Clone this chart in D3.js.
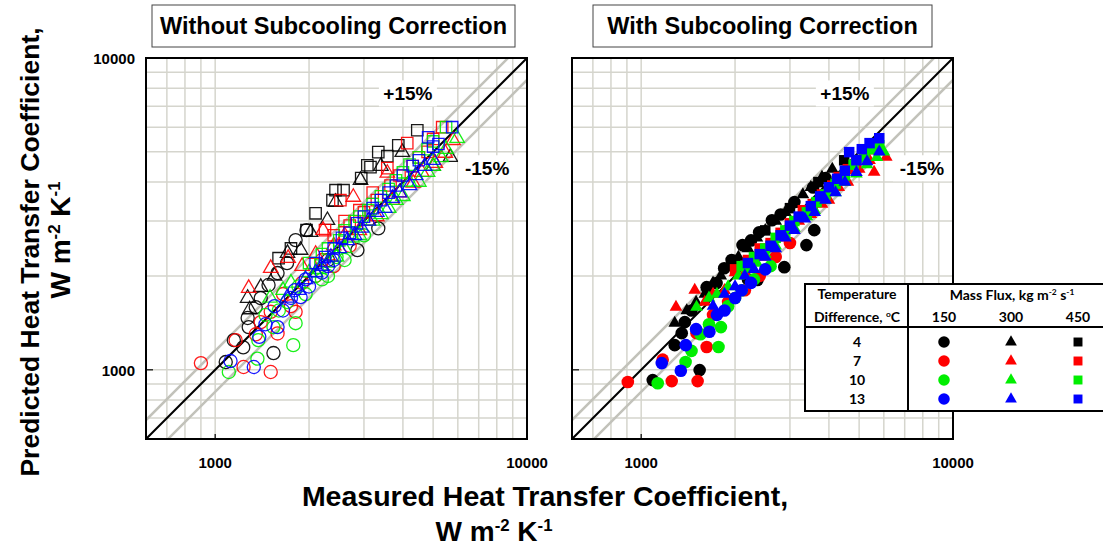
<!DOCTYPE html>
<html>
<head>
<meta charset="utf-8">
<script src="https://cdn.jsdelivr.net/npm/d3@7"></script>
<style>
  body { margin: 0; background: #fff; }
  text { font-family: "Liberation Sans", Arial, sans-serif; font-weight: bold; }
  .leg text { font-family: Lato, "Open Sans", sans-serif; }
</style>
</head>
<body>
<div id="chart"></div>
<script>
// Categories
const tempDiffs = [4, 7, 10, 13];          // degC
const massFluxes = [150, 300, 450];        // kg m-2 s-1
const tickVals = [1000, 10000];
const gridVals = [700, 800, 900, 1000, 2000, 3000, 4000, 5000, 6000, 7000, 8000, 9000];
const bandFactors = [1.15, 0.85];          // +15% / -15%

// Without subcooling correction: [measured, predicted]
const woC_4_150 = [[1081,1059],[1148,1245],[1230,1180],[1281,1371],[1271,1466],[1349,1589],[1400,1698],[1483,1871],[1585,2043],[1811,2606],[1963,2805],[1538,1132],[1700,2200],[2858,2421],[3335,2843],[2300,2250]];
const woC_4_300 = [[1271,1698],[1290,1560],[1400,1841],[1550,2000],[1706,2367],[1879,2421],[2023,2762],[2291,3017],[2432,3450],[2924,4055],[3400,4500],[3981,4990],[5000,4500],[5680,4808]];
const woC_4_450 = [[1597,2280],[1750,2450],[1963,2805],[2099,3177],[2378,3499],[2432,3767],[2580,3767],[2940,4121],[3076,4529],[3148,4467],[3335,4990],[3565,4842],[3866,5248],[4448,5866]];
const woC_7_150 = [[900,1051],[1163,1245],[1233,1021],[1507,984],[1350,1300],[1400,1422],[1585,1308],[1507,1535],[1811,1535],[1750,1600],[1650,1750],[1900,1900],[2100,2000],[2200,2250],[2400,2150],[2700,2500]];
const woC_7_300 = [[1281,1828],[1507,2118],[1714,2280],[1900,2150],[2100,2350],[2219,2805],[2400,2500],[2600,2700],[2773,3581],[2900,2800],[3100,3000],[3300,3100],[3565,4276],[3700,3500],[3900,3700],[4316,3972],[4600,4300],[5082,4600],[5470,4955],[5794,5445]];
const woC_7_450 = [[2250,2805],[2400,2700],[2521,3499],[2600,3000],[2700,2900],[2900,3250],[3000,3200],[3200,3700],[3300,3500],[3565,4436],[3650,3900],[3900,4200],[4130,5333],[4300,4500],[4500,4800],[4800,5000],[5000,5500],[5346,6000]];
const woC_10_150 = [[1106,984],[1366,1086],[1375,1245],[1450,1500],[1538,1371],[1780,1200],[1811,1411],[1600,1550],[1700,1650],[1850,1850],[1950,1750],[2100,2000],[2200,1950],[2300,2000],[2450,2300],[2600,2250],[3000,2700]];
const woC_10_300 = [[1500,1700],[1650,1800],[1750,1900],[2000,2050],[2150,2100],[2300,2200],[2450,2300],[2600,2450],[2750,2650],[2900,2700],[3200,3000],[3400,3150],[3600,3300],[3800,3500],[4000,3600],[4200,4000],[4500,4000],[4800,4300],[5000,4500],[5300,4800],[5500,5100],[5970,5530]];
const woC_10_450 = [[2000,2200],[2200,2350],[2300,2450],[2500,2600],[2600,2800],[2800,3000],[2900,3100],[3100,3250],[3200,3400],[3400,3600],[3600,3800],[3800,4050],[4000,4300],[4200,4550],[4500,4800],[4800,5100],[5000,5400],[5500,6000]];
const woC_13_150 = [[1120,1067],[1330,1021],[1385,1276],[1450,1400],[1550,1600],[1585,1371],[1650,1550],[1750,1700],[1879,1711],[1800,1800],[1950,1950],[2000,1850],[2200,2050],[2300,2150],[2400,2250]];
const woC_13_300 = [[1700,1700],[1850,1800],[1950,1950],[2100,2050],[2200,2150],[2350,2300],[2500,2450],[2650,2600],[2800,2700],[2950,2850],[3100,3000],[3300,3200],[3500,3300],[3700,3550],[3900,3700],[4200,3900],[4400,4200],[4700,4500],[5000,4700]];
const woC_13_450 = [[2100,2200],[2250,2300],[2400,2450],[2550,2650],[2700,2750],[2850,2950],[3000,3100],[3200,3300],[3400,3500],[3600,3700],[3800,3900],[4000,4200],[4300,4500],[4500,4700],[4819,5570],[5000,5200],[5200,5300],[5754,6000]];

// With subcooling correction: [measured, predicted]
const wC_4_150 = [[1089,927],[1540,998],[1281,1200],[1349,1311],[1380,1422],[1450,1550],[1622,1841],[1745,1897],[1846,2118],[1950,2250],[2113,2512],[2250,2600],[2390,2762],[2626,3017],[2800,3150],[3100,3450],[3559,3845],[3898,4121],[2360,1941],[2877,2134],[3388,2512],[3590,2805],[2200,1950]];
const wC_4_300 = [[1281,1413],[1400,1550],[1500,1650],[1600,1750],[1700,1900],[1800,2000],[1900,2150],[2050,2300],[2200,2450],[2350,2650],[2500,2800],[2700,3000],[2900,3200],[3100,3400],[3300,3650],[3500,3850],[3800,4150],[4100,4400]];
const wC_4_450 = [[2000,2250],[2500,2800],[3000,3300],[3700,4000],[4477,4699]];
const wC_7_150 = [[906,914],[1172,1078],[1253,920],[1517,920],[1505,1311],[1622,1183],[1700,1500],[1900,1650],[2150,1800],[2400,2000],[2700,2300],[3000,2550]];
const wC_7_300 = [[1293,1589],[1485,1803],[1600,1650],[1700,1750],[1850,1800],[2000,2050],[2150,2050],[2300,2250],[2450,2300],[2600,2450],[2800,2650],[3000,2800],[3200,3000],[3500,3150],[3800,3400],[4000,3500],[4300,3850],[4600,4000],[5000,4400],[5400,4700],[5585,4305],[6110,4808]];
const wC_7_450 = [[2000,2100],[2200,2250],[2400,2450],[2600,2550],[2800,2750],[3000,2950],[3300,3250],[3550,3400],[3800,3650],[4100,3900],[4300,4150],[4600,4400],[4900,4700],[5200,4900],[5400,5100]];
const wC_10_150 = [[1130,906],[1388,1059],[1450,1150],[1550,1300],[1770,1183],[1802,1371],[1650,1400],[1900,1600],[2000,1700],[2100,1800],[2300,1950],[2600,2150]];
const wC_10_300 = [[1505,1589],[1650,1700],[1750,1750],[1900,1850],[2050,2000],[2200,2100],[2350,2200],[2500,2350],[2700,2500],[2900,2700],[3100,2850],[3400,3100],[3600,3250],[3900,3500],[4200,3700],[4500,4000],[4900,4250],[5300,4550],[5700,4800],[6000,5000]];
const wC_10_450 = [[2100,2150],[2300,2300],[2500,2450],[2700,2650],[2900,2800],[3100,3000],[3400,3200],[3650,3450],[3900,3650],[4200,3950],[4500,4200],[4800,4550],[5200,4800],[5500,5100],[5800,5250]];
const wC_13_150 = [[1164,1051],[1340,993],[1390,1200],[1500,1350],[1655,1325],[1750,1500],[1850,1550],[2000,1700],[2100,1800],[2250,1900],[2500,2100]];
const wC_13_300 = [[1700,1600],[1850,1750],[2000,1850],[2150,2000],[2300,2100],[2500,2300],[2700,2450],[2900,2650],[3100,2800],[3350,3050],[3600,3200],[3900,3500],[4200,3700],[4500,4000],[4900,4300],[5300,4650],[5800,5000]];
const wC_13_450 = [[2200,2200],[2400,2350],[2600,2500],[2800,2700],[3000,2900],[3200,3100],[3500,3350],[3750,3600],[4000,3850],[4250,4100],[4500,4350],[4645,4990],[4900,4700],[5100,5100],[5400,5333],[5800,5530]];

const withoutSeries = {
  "4_150": woC_4_150, "4_300": woC_4_300, "4_450": woC_4_450,
  "7_150": woC_7_150, "7_300": woC_7_300, "7_450": woC_7_450,
  "10_150": woC_10_150, "10_300": woC_10_300, "10_450": woC_10_450,
  "13_150": woC_13_150, "13_300": woC_13_300, "13_450": woC_13_450
};
const withSeries = {
  "4_150": wC_4_150, "4_300": wC_4_300, "4_450": wC_4_450,
  "7_150": wC_7_150, "7_300": wC_7_300, "7_450": wC_7_450,
  "10_150": wC_10_150, "10_300": wC_10_300, "10_450": wC_10_450,
  "13_150": wC_13_150, "13_300": wC_13_300, "13_450": wC_13_450
};

// Styles
const color = d3.scaleOrdinal().domain(tempDiffs).range(["#000000", "#ff0000", "#00ee00", "#0000ff"]);
const shape = d3.scaleOrdinal().domain(massFluxes).range([d3.symbolCircle, d3.symbolTriangle, d3.symbolSquare]);
const openSize = d3.scaleOrdinal().domain(massFluxes).range([135, 90, 130]);
const fillSize = d3.scaleOrdinal().domain(massFluxes).range([125, 70, 110]);

const width = 1103, height = 546;
const plotTop = 58, plotBottom = 439, side = 381;
const domain = [600, 10000];

const svg = d3.select("#chart")
  .append("svg")
  .attr("width", width)
  .attr("height", height);

const panels = [
  { id: "p0", title: "Without Subcooling Correction", left: 146, series: withoutSeries, open: true,
    titleBox: [152, 515], plus: [4150, 7700], minus: [7450, 4430], yLabels: true },
  { id: "p1", title: "With Subcooling Correction", left: 572, series: withSeries, open: false,
    titleBox: [593, 932], plus: [4500, 7700], minus: [7950, 4430], yLabels: false }
];

function supText(sel, parts, size) {
  parts.forEach(([t, sup]) => {
    sel.append("tspan")
      .attr("font-size", sup === 1 ? size * 0.6 : size)
      .attr("dy", sup === 1 ? -size * 0.34 : sup === -1 ? size * 0.34 : 0)
      .text(t);
  });
}

panels.forEach(p => {
  const x = d3.scaleLog().domain(domain).range([p.left, p.left + side]);
  const y = d3.scaleLog().domain(domain).range([plotBottom, plotTop]);
  const g = svg.append("g");

  g.append("clipPath").attr("id", "clip-" + p.id)
    .append("rect").attr("x", p.left).attr("y", plotTop).attr("width", side).attr("height", plotBottom - plotTop);

  // grid
  g.selectAll(".vgrid").data(gridVals).join("line")
    .attr("x1", d => x(d)).attr("x2", d => x(d))
    .attr("y1", plotTop).attr("y2", plotBottom)
    .attr("stroke", "#d5d5cd").attr("stroke-width", 1.5);
  g.selectAll(".hgrid").data(gridVals).join("line")
    .attr("y1", d => y(d)).attr("y2", d => y(d))
    .attr("x1", p.left).attr("x2", p.left + side)
    .attr("stroke", "#d5d5cd").attr("stroke-width", 1.5);

  const clipped = g.append("g").attr("clip-path", `url(#clip-${p.id})`);

  // +/-15% bands and 1:1 line
  clipped.selectAll(".band").data(bandFactors).join("line")
    .attr("x1", x(domain[0])).attr("y1", f => y(domain[0] * f))
    .attr("x2", x(domain[1])).attr("y2", f => y(domain[1] * f))
    .attr("stroke", "#c2c2ba").attr("stroke-width", 2.5);
  clipped.append("line")
    .attr("x1", x(domain[0])).attr("y1", y(domain[0]))
    .attr("x2", x(domain[1])).attr("y2", y(domain[1]))
    .attr("stroke", "#000").attr("stroke-width", 2);

  // band labels with white background
  [["+15%", p.plus], ["-15%", p.minus]].forEach(([t, pos]) => {
    const lbl = g.append("g");
    lbl.append("rect")
      .attr("x", x(pos[0]) - 29).attr("y", y(pos[1]) - 13)
      .attr("width", 58).attr("height", 26).attr("fill", "#fff");
    lbl.append("text")
      .attr("x", x(pos[0])).attr("y", y(pos[1]) + 7)
      .attr("text-anchor", "middle").attr("font-size", 19)
      .text(t);
  });

  // markers
  tempDiffs.forEach(dt => {
    massFluxes.forEach(G => {
      const pts = p.series[dt + "_" + G];
      const sym = d3.symbol().type(shape(G)).size(p.open ? openSize(G) : fillSize(G));
      clipped.selectAll(null).data(pts).join("path")
        .attr("d", sym)
        .attr("transform", d => `translate(${x(d[0])},${y(d[1])})`)
        .attr("fill", p.open ? "none" : color(dt))
        .attr("stroke", p.open ? color(dt) : "none")
        .attr("stroke-width", 1.3)
        .attr("opacity", p.open ? 0.9 : 1);
    });
  });

  // frame
  g.append("rect")
    .attr("x", p.left).attr("y", plotTop).attr("width", side).attr("height", plotBottom - plotTop)
    .attr("fill", "none").attr("stroke", "#000").attr("stroke-width", 2);

  // small ticks at 1000
  g.append("line").attr("x1", p.left).attr("x2", p.left + 7)
    .attr("y1", y(1000)).attr("y2", y(1000)).attr("stroke", "#000").attr("stroke-width", 1.2);
  g.append("line").attr("x1", x(1000)).attr("x2", x(1000))
    .attr("y1", plotBottom).attr("y2", plotBottom - 5).attr("stroke", "#000").attr("stroke-width", 1.2);

  // tick labels
  g.selectAll(".xl").data(tickVals).join("text")
    .attr("x", d => x(d)).attr("y", plotBottom + 29)
    .attr("text-anchor", "middle").attr("font-size", 15)
    .text(d => d);
  if (p.yLabels) {
    g.selectAll(".yl").data(tickVals).join("text")
      .attr("x", p.left - 11).attr("y", d => y(d) + 6)
      .attr("text-anchor", "end").attr("font-size", 15)
      .text(d => d);
  }

  // title box
  g.append("rect")
    .attr("x", p.titleBox[0]).attr("y", 5)
    .attr("width", p.titleBox[1] - p.titleBox[0]).attr("height", 42)
    .attr("fill", "#fff").attr("stroke", "#444").attr("stroke-width", 1);
  g.append("text")
    .attr("x", (p.titleBox[0] + p.titleBox[1]) / 2).attr("y", 34)
    .attr("text-anchor", "middle").attr("font-size", 23.5)
    .text(p.title);
});

// axis titles
svg.append("text")
  .attr("transform", "translate(39,252) rotate(-90)")
  .attr("text-anchor", "middle").attr("font-size", 26.5)
  .text("Predicted Heat Transfer Coefficient,");
const yt2 = svg.append("text")
  .attr("transform", "translate(70,240) rotate(-90)")
  .attr("text-anchor", "middle");
supText(yt2, [["W m", 0], ["-2", 1], [" K", -1], ["-1", 1]], 28);

svg.append("text")
  .attr("x", 545).attr("y", 506)
  .attr("text-anchor", "middle").attr("font-size", 28.5)
  .text("Measured Heat Transfer Coefficient,");
const xt2 = svg.append("text")
  .attr("x", 494).attr("y", 541)
  .attr("text-anchor", "middle");
supText(xt2, [["W m", 0], ["-2", 1], [" K", -1], ["-1", 1]], 28);

// legend table
const leg = svg.append("g").attr("class", "leg");
leg.append("rect").attr("x", 805).attr("y", 284).attr("width", 320).attr("height", 127)
  .attr("fill", "#fff").attr("stroke", "#000").attr("stroke-width", 2);
leg.append("line").attr("x1", 908).attr("x2", 908).attr("y1", 284).attr("y2", 411)
  .attr("stroke", "#000").attr("stroke-width", 2);
leg.append("line").attr("x1", 805).attr("x2", 1103).attr("y1", 327).attr("y2", 327)
  .attr("stroke", "#000").attr("stroke-width", 2);

leg.append("text").attr("x", 857).attr("y", 299).attr("text-anchor", "middle")
  .attr("font-size", 14).text("Temperature");
const diffT = leg.append("text").attr("x", 857).attr("y", 322).attr("text-anchor", "middle");
supText(diffT, [["Difference, ", 0], ["o", 1], ["C", -1]], 14);
const mfT = leg.append("text").attr("x", 1012).attr("y", 300).attr("text-anchor", "middle");
supText(mfT, [["Mass Flux, kg m", 0], ["-2", 1], [" s", -1], ["-1", 1]], 14);

const colX = d3.scalePoint().domain(massFluxes).range([944, 1078]);
const rowY = d3.scalePoint().domain(tempDiffs).range([342, 399]);

leg.selectAll(".mf").data(massFluxes).join("text")
  .attr("x", d => colX(d)).attr("y", 322).attr("text-anchor", "middle")
  .attr("font-size", 14).text(d => d);
leg.selectAll(".td").data(tempDiffs).join("text")
  .attr("x", 857).attr("y", d => rowY(d) + 5).attr("text-anchor", "middle")
  .attr("font-size", 14).text(d => d);

tempDiffs.forEach(dt => {
  massFluxes.forEach(G => {
    leg.append("path")
      .attr("d", d3.symbol().type(shape(G)).size(G === 150 ? 105 : G === 300 ? 60 : 80))
      .attr("transform", `translate(${colX(G)},${rowY(dt)})`)
      .attr("fill", color(dt));
  });
});
</script>
</body>
</html>
